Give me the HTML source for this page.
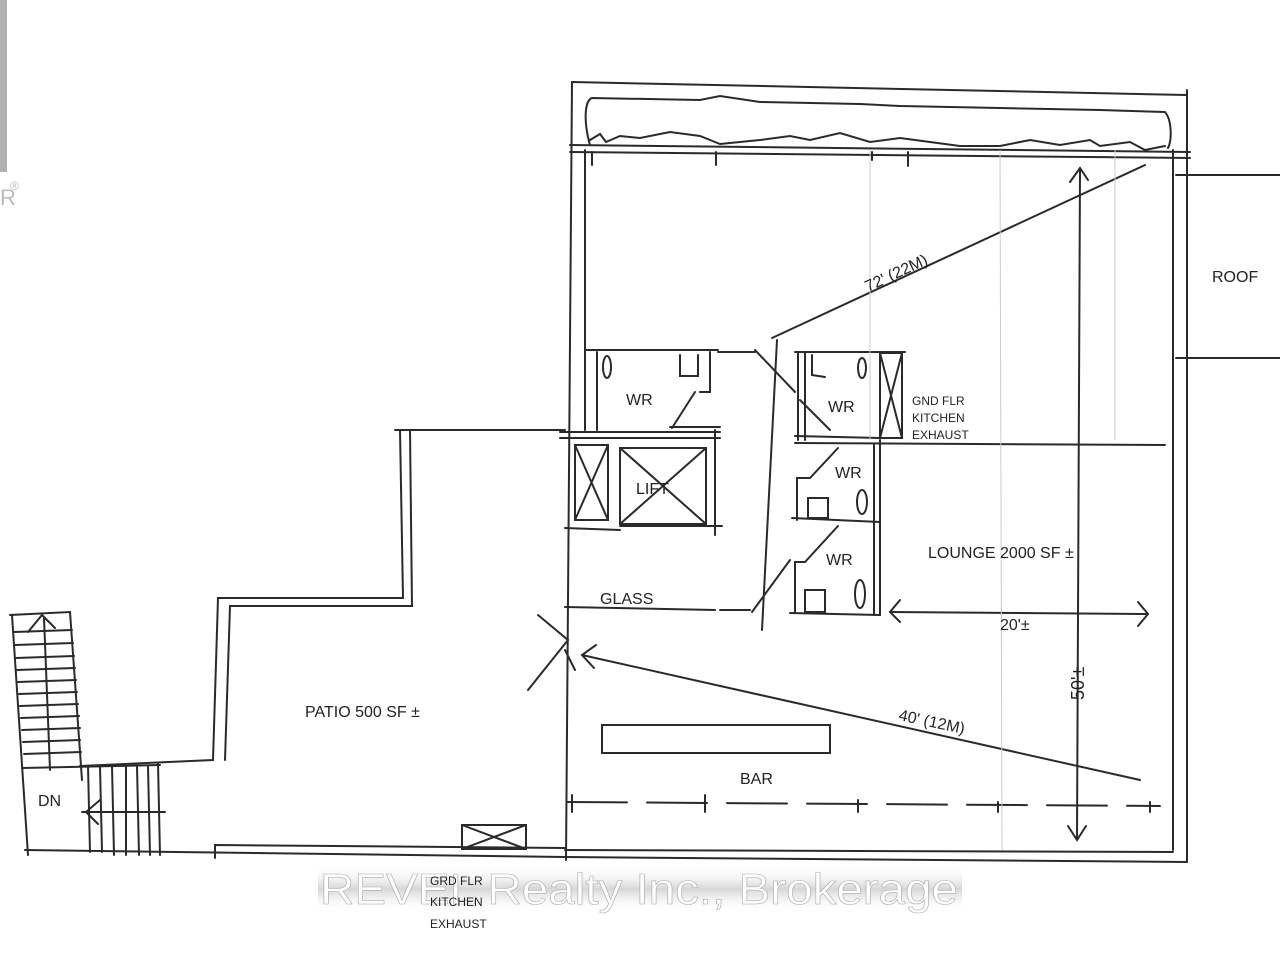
<!DOCTYPE html>
<html><head><meta charset="utf-8"><style>
html,body{margin:0;padding:0;background:#fff;}
svg{display:block;}
text{font-family:"Liberation Sans",sans-serif;fill:#222;}
</style></head><body>
<svg width="1280" height="953" viewBox="0 0 1280 953" xmlns="http://www.w3.org/2000/svg">
<rect x="0" y="0" width="7" height="172" fill="#b0b0b0"/>
<text x="0" y="205" font-size="22" fill="#bbb" style="fill:#bbb">R</text>
<text x="10" y="190" font-size="12" style="fill:#bbb">®</text>
<g stroke="#2a2a2a" stroke-width="2" fill="none" stroke-linecap="round">
<line x1="572" y1="82" x2="1187" y2="95"/>
<line x1="572" y1="82" x2="566" y2="860"/>
<line x1="585" y1="150" x2="585" y2="430"/>
<line x1="1187" y1="90" x2="1187" y2="862"/>
<line x1="1173" y1="150" x2="1173" y2="850"/>
<line x1="565" y1="857" x2="1187" y2="862"/>
<line x1="565" y1="850" x2="1173" y2="852"/>
<path d="M590 145 C583 120 585 100 592 98 L700 100 L720 96 L760 102 L860 104 L900 106 L1000 108 L1100 110 L1165 112 C1172 120 1172 140 1168 148"/>
<path d="M590 140 L600 134 L606 142 L620 136 L640 138 L670 132 L700 136 L720 144 L760 140 L790 136 L810 140 L840 133 L870 142 L900 138 L930 142 L960 146 L1000 146 L1030 140 L1060 145 L1090 140 L1100 146 L1130 142 L1145 150 L1165 146"/>
<line x1="570" y1="145" x2="1190" y2="152"/>
<line x1="570" y1="152" x2="1190" y2="158"/>
<line x1="592" y1="152" x2="592" y2="165"/><line x1="716" y1="152" x2="716" y2="165"/><line x1="872" y1="152" x2="872" y2="160"/><line x1="908" y1="152" x2="908" y2="166"/>
<line x1="1176" y1="175" x2="1280" y2="175"/>
<line x1="1176" y1="358" x2="1280" y2="358"/>
<line x1="1145" y1="165" x2="772" y2="338"/>
<path d="M585 350 L718 350 M597 352 L597 430 M710 352 L710 392 L700 392 M695 392 L672 428 M670 427 L720 427"/>
<ellipse cx="607" cy="367" rx="4" ry="11"/>
<path d="M680 355 L680 376 L698 376 L698 355"/>
<line x1="718" y1="352" x2="755" y2="352"/>
<path d="M755 350 L795 392"/>
<line x1="560" y1="432" x2="720" y2="432"/>
<line x1="560" y1="438" x2="720" y2="438"/>
<line x1="715" y1="430" x2="715" y2="535"/>
<rect x="575" y="445" width="33" height="75"/><path d="M575 445 L608 520 M608 445 L575 520"/>
<rect x="620" y="448" width="86" height="76"/><path d="M620 448 L706 524 M706 448 L620 524"/>
<line x1="565" y1="528" x2="620" y2="530"/>
<line x1="620" y1="526" x2="722" y2="526"/>
<line x1="565" y1="607" x2="715" y2="610"/>
<line x1="720" y1="610" x2="750" y2="610"/>
<path d="M752 612 L790 560"/>
<line x1="777" y1="340" x2="762" y2="630"/>
<path d="M795 352 L905 352 M798 352 L798 440 M805 352 L805 440"/>
<path d="M812 355 L812 375 L825 377"/>
<ellipse cx="862" cy="368" rx="4" ry="10"/>
<path d="M800 400 L830 430"/>
<rect x="880" y="353" width="22" height="85"/><path d="M880 353 L902 438 M902 353 L880 438"/>
<line x1="795" y1="436" x2="880" y2="438"/>
<line x1="795" y1="443" x2="1165" y2="445"/>
<line x1="880" y1="440" x2="880" y2="615"/>
<line x1="874" y1="445" x2="874" y2="615"/>
<path d="M838 448 L810 478 L797 478 L797 520"/>
<rect x="808" y="498" width="20" height="20"/>
<ellipse cx="862" cy="502" rx="5" ry="12"/>
<line x1="792" y1="518" x2="880" y2="522"/>
<path d="M838 526 L805 562 L795 562 L795 612"/>
<rect x="805" y="590" width="20" height="22"/>
<ellipse cx="860" cy="594" rx="5" ry="14"/>
<line x1="790" y1="613" x2="880" y2="615"/>
<line x1="890" y1="612" x2="1148" y2="614"/>
<path d="M900 600 L890 612 L900 622 M1138 602 L1148 614 L1138 626"/>
<line x1="1080" y1="170" x2="1077" y2="838"/>
<path d="M1070 182 L1080 168 L1088 180 M1068 826 L1077 840 L1086 826"/>
<path d="M538 615 L568 640 L528 690 M565 650 L575 670"/>
<line x1="582" y1="655" x2="1140" y2="780"/>
<path d="M596 645 L582 655 L594 668"/>
<rect x="602" y="725" width="228" height="28"/>
<line x1="567" y1="802" x2="1160" y2="806" stroke-dasharray="60 20"/>
<path d="M572 795 L572 812 M705 795 L705 812 M858 800 L858 812 M998 802 L998 812 M1150 802 L1150 812"/>
<path d="M400 430 L403 598 L218 598 L213 760 L80 766"/>
<path d="M410 430 L412 606 L230 606 L225 760"/>
<line x1="395" y1="430" x2="565" y2="430"/>
<line x1="25" y1="850" x2="565" y2="857"/>
<path d="M215 858 L215 845 L565 848"/>
<path d="M10 615 L70 612 L82 780"/>
<path d="M12 615 L28 855"/>
<path d="M14 632 L72 630 M15 645 L73 643 M16 658 L74 656 M17 670 L75 668 M18 682 L76 680 M19 694 L77 692 M20 706 L78 704 M21 718 L79 716 M22 730 L80 728 M23 742 L80 740 M24 754 L81 752"/>
<line x1="44" y1="618" x2="50" y2="770"/>
<path d="M28 632 L42 615 L55 628"/>
<line x1="22" y1="768" x2="160" y2="765"/>
<path d="M88 766 L90 852 M100 766 L102 852 M112 766 L114 855 M126 766 L126 855 M137 766 L139 855 M148 766 L150 855 M158 763 L160 855"/>
<line x1="82" y1="812" x2="165" y2="812"/>
<path d="M100 800 L86 812 L98 824"/>
<rect x="462" y="825" width="64" height="24"/><path d="M462 825 L526 849 M526 825 L462 849"/>
</g>
<g stroke="#ccc" stroke-width="1"><line x1="870" y1="150" x2="870" y2="440"/><line x1="1000" y1="150" x2="1002" y2="850"/><line x1="1115" y1="150" x2="1115" y2="440"/></g>
<defs><linearGradient id="wm" x1="0" y1="0" x2="0" y2="1"><stop offset="0" stop-color="#fff" stop-opacity="0"/><stop offset=".5" stop-color="#bbb" stop-opacity=".6"/><stop offset="1" stop-color="#fff" stop-opacity="0"/></linearGradient></defs>
<rect x="318" y="866" width="644" height="46" fill="url(#wm)"/>
<text x="320" y="904" font-size="44" textLength="638" lengthAdjust="spacingAndGlyphs" style="fill:#fff;stroke:#aaa;stroke-width:0.6">REVEL Realty Inc., Brokerage</text>
<g font-size="16">
<text x="1212" y="282">ROOF</text>
<text x="868" y="292" transform="rotate(-25 868 292)">72' (22M)</text>
<text x="626" y="405">WR</text>
<text x="636" y="494">LIFT</text>
<text x="828" y="412">WR</text>
<text x="835" y="478">WR</text>
<text x="826" y="565">WR</text>
<text x="912" y="405" font-size="12">GND FLR</text>
<text x="912" y="422" font-size="12">KITCHEN</text>
<text x="912" y="439" font-size="12">EXHAUST</text>
<text x="928" y="558">LOUNGE  2000 SF ±</text>
<text x="1000" y="630">20'±</text>
<text x="1084" y="700" transform="rotate(-90 1084 700)" font-size="18">50'±</text>
<text x="600" y="604">GLASS</text>
<text x="898" y="720" transform="rotate(12 898 720)">40' (12M)</text>
<text x="740" y="784">BAR</text>
<text x="305" y="717">PATIO   500 SF ±</text>
<text x="38" y="806">DN</text>
<text x="430" y="885" font-size="12">GRD FLR</text>
<text x="430" y="906" font-size="12">KITCHEN</text>
<text x="430" y="928" font-size="12">EXHAUST</text>
</g>
</svg>
</body></html>
